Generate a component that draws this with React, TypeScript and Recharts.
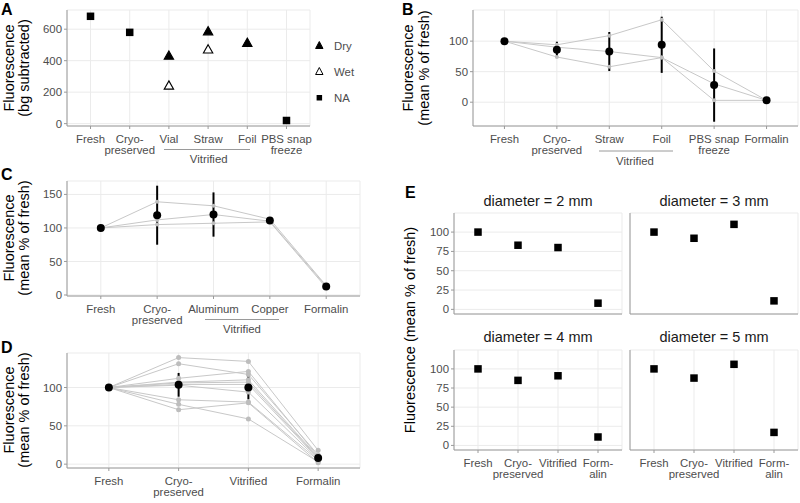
import React from 'react';
import { ComposedChart, Line, XAxis, YAxis, CartesianGrid, ErrorBar } from 'recharts';

const FONT = '"Liberation Sans", Arial, Helvetica, sans-serif';
const TICK = '#4d4d4d';
const AXIS = '#9a9a9a';
const GRID = '#ebebeb';
const SAMPLE_LINE = '#c8c8c8';
const SAMPLE_DOT = '#bdbdbd';

// Panel A: fluorescence (bg subtracted)
const catsA = ['Fresh', 'Cryo-\npreserved', 'Vial', 'Straw', 'Foil', 'PBS snap\nfreeze'];
const dryA = [null, null, 430, 585, 512, null];
const wetA = [null, null, 240, 470, null, null];
const naA = [682, 580, null, null, null, 20];
const ticksA = [0, 200, 400, 600];

// Panel B
const catsB = ['Fresh', 'Cryo-\npreserved', 'Straw', 'Foil', 'PBS snap\nfreeze', 'Formalin'];
const samplesB = [
  [100, 94, 109, 135, 51, 3],
  [100, 90, 83, 73, 30, 3],
  [100, 74, 58, 73, 3, 3],
];
const meanB = [100, 86, 83, 94, 28, 3];
const errB = [0, 13, 32, 46, 60, 1];
const ticksB = [0, 50, 100];

// Panel C
const catsC = ['Fresh', 'Cryo-\npreserved', 'Aluminum', 'Copper', 'Formalin'];
const samplesC = [
  [100, 139, 133, 113, 14],
  [100, 112, 120, 110, 13],
  [100, 105, 107, 109, 11],
];
const meanC = [100, 119, 120, 111, 12.5];
const errC = [0, 44, 33, 2, 1.5];
const ticksC = [0, 50, 100, 150];

// Panel D
const catsD = ['Fresh', 'Cryo-\npreserved', 'Vitrified', 'Formalin'];
const samplesD = [
  [100, 139, 134, 18],
  [100, 131, 117, 12],
  [100, 112, 121, 10],
  [100, 107, 110, 9],
  [100, 106, 107, 8],
  [100, 104, 104, 7],
  [100, 103, 94, 6],
  [100, 84, 81, 5],
  [100, 78, 59, 3],
  [100, 71, 80, 2],
];
const meanD = [100, 103.5, 100, 8];
const errD = [0, 15.5, 15.5, 4];
const ticksD = [0, 50, 100];

// Panel E: by diameter
const catsE = ['Fresh', 'Cryo-\npreserved', 'Vitrified', 'Form-\nalin'];
const d2mm = [100, 83, 80, 8];
const d3mm = [100, 92, 110, 11];
const d4mm = [100, 85, 91, 11];
const d5mm = [100, 88, 106, 17];
const ticksE = [0, 25, 50, 75, 100];

const tickStyle = { fill: TICK, fontSize: 11.4, fontFamily: FONT };

function XTick(props: any) {
  const { x, y, payload, cats } = props;
  const label = cats[Math.round(payload.value) - 1] || '';
  const lines = label.split('\n');
  return (
    <text x={x} y={y} textAnchor="middle" fill={TICK} fontSize={11.4} fontFamily={FONT}>
      {lines.map((l: string, i: number) => (
        <tspan key={i} x={x} dy={i === 0 ? 11.7 : 11.5}>
          {l}
        </tspan>
      ))}
    </text>
  );
}

const square = (size: number) => (props: any) => {
  const { cx, cy, index } = props;
  if (cx == null || cy == null || isNaN(cy)) return <g key={index} />;
  return <rect key={index} x={cx - size / 2} y={cy - size / 2} width={size} height={size} fill="#000" />;
};

const triangle = (filled: boolean) => (props: any) => {
  const { cx, cy, index } = props;
  if (cx == null || cy == null || isNaN(cy)) return <g key={index} />;
  const d = `M${cx},${cy - 5} L${cx + 4.7},${cy + 3.3} L${cx - 4.7},${cy + 3.3} Z`;
  return <path key={index} d={d} fill={filled ? '#000' : '#fff'} stroke="#000" strokeWidth={1.1} />;
};

function xAxisFor(cats: string[], height: number, showLabels = true) {
  return (
    <XAxis
      dataKey="x"
      type="number"
      domain={[0.4, cats.length + 0.6]}
      ticks={cats.map((_, i) => i + 1)}
      interval={0}
      height={height}
      allowDataOverflow
      stroke={AXIS}
      tickSize={3}
      tickMargin={2}
      tickLine={showLabels}
      tick={showLabels ? <XTick cats={cats} /> : false}
    />
  );
}

function yAxisFor(domain: number[], ticks: number[], width: number, showLabels = true) {
  return (
    <YAxis
      type="number"
      domain={domain}
      ticks={ticks}
      interval={0}
      width={width}
      allowDataOverflow
      stroke={AXIS}
      tickSize={3}
      tickMargin={2}
      tickLine={showLabels}
      tick={showLabels ? tickStyle : false}
    />
  );
}

function PanelA() {
  const data = catsA.map((c, i) => ({ x: i + 1, dry: dryA[i], wet: wetA[i], na: naA[i] }));
  return (
    <div style={{ position: 'absolute', left: 0, top: 0 }}>
      <ComposedChart width={312} height={170} data={data} margin={{ top: 10, right: 2, left: 0, bottom: 0 }}>
        <CartesianGrid stroke={GRID} />
        {xAxisFor(catsA, 44)}
        {yAxisFor([-15, 722], ticksA, 67)}
        <Line dataKey="na" stroke="none" dot={square(7.5)} isAnimationActive={false} />
        <Line dataKey="dry" stroke="none" dot={triangle(true)} isAnimationActive={false} />
        <Line dataKey="wet" stroke="none" dot={triangle(false)} isAnimationActive={false} />
      </ComposedChart>
    </div>
  );
}

function TrendPanel(props: any) {
  const { left, top, width, height, marginTop, xHeight, cats, samples, mean, err, domain, ticks, yWidth, sampleR } = props;
  const data = cats.map((c: string, i: number) => {
    const row: any = { x: i + 1, mean: mean[i], err: err[i] };
    samples.forEach((s: number[], k: number) => {
      row['s' + k] = s[i];
    });
    return row;
  });
  return (
    <div style={{ position: 'absolute', left, top }}>
      <ComposedChart width={width} height={height} data={data} margin={{ top: marginTop, right: 2, left: 0, bottom: 0 }}>
        <CartesianGrid stroke={GRID} />
        {xAxisFor(cats, xHeight)}
        {yAxisFor(domain, ticks, yWidth)}
        {samples.map((_: any, k: number) => (
          <Line
            key={k}
            dataKey={'s' + k}
            stroke={SAMPLE_LINE}
            strokeWidth={1}
            dot={{ r: sampleR, fill: SAMPLE_DOT, stroke: 'none' }}
            activeDot={false}
            isAnimationActive={false}
          />
        ))}
        <Line dataKey="mean" stroke="none" dot={{ r: 4, fill: '#000', stroke: 'none' }} activeDot={false} isAnimationActive={false}>
          <ErrorBar dataKey="err" width={0} strokeWidth={2} stroke="#000" direction="y" />
        </Line>
      </ComposedChart>
    </div>
  );
}

function Facet(props: any) {
  const { left, top, width, height, values, bottom, first } = props;
  const data = catsE.map((c, i) => ({ x: i + 1, v: values[i] }));
  return (
    <div style={{ position: 'absolute', left, top }}>
      <ComposedChart width={width} height={height} data={data} margin={{ top: 8, right: 2, left: 0, bottom: 0 }}>
        <CartesianGrid stroke={GRID} />
        {xAxisFor(catsE, bottom ? 37 : 6, bottom)}
        {yAxisFor([-6, 124.7], ticksE, first ? 54 : 2, first)}
        <Line dataKey="v" stroke="none" dot={square(7.5)} activeDot={false} isAnimationActive={false} />
      </ComposedChart>
    </div>
  );
}

function Overlay() {
  const letter = { fontFamily: FONT, fontWeight: 700, fontSize: 16, fill: '#000' } as any;
  const title = { fontFamily: FONT, fontSize: 14.5, fill: '#000' } as any;
  const small = { fontFamily: FONT, fontSize: 11.4, fill: TICK } as any;
  const rot = (x: number, y: number) => `translate(${x},${y}) rotate(-90)`;
  return (
    <svg width={800} height={503} style={{ position: 'absolute', left: 0, top: 0, pointerEvents: 'none' }}>
      <text x={1} y={15} {...letter}>A</text>
      <text x={402} y={15} {...letter}>B</text>
      <text x={1} y={180} {...letter}>C</text>
      <text x={1} y={353} {...letter}>D</text>
      <text x={405} y={198} {...letter}>E</text>

      <text transform={rot(14, 68)} textAnchor="middle" {...title}>Fluorescence</text>
      <text transform={rot(29, 68)} textAnchor="middle" {...title}>(bg subtracted)</text>
      <text transform={rot(413, 68)} textAnchor="middle" {...title}>Fluorescence</text>
      <text transform={rot(429, 68)} textAnchor="middle" {...title}>(mean % of fresh)</text>
      <text transform={rot(14, 238)} textAnchor="middle" {...title}>Fluorescence</text>
      <text transform={rot(29, 238)} textAnchor="middle" {...title}>(mean % of fresh)</text>
      <text transform={rot(14, 410)} textAnchor="middle" {...title}>Fluorescence</text>
      <text transform={rot(29, 410)} textAnchor="middle" {...title}>(mean % of fresh)</text>
      <text transform={rot(415, 330)} textAnchor="middle" {...title}>Fluorescence (mean % of fresh)</text>

      <line x1={164} x2={250} y1={149.5} y2={149.5} stroke={AXIS} strokeWidth={1} />
      <text x={208.7} y={163} textAnchor="middle" {...small}>Vitrified</text>
      <line x1={599} x2={673} y1={151} y2={151} stroke={AXIS} strokeWidth={1} />
      <text x={635} y={165} textAnchor="middle" {...small}>Vitrified</text>
      <line x1={205} x2={279} y1={319.5} y2={319.5} stroke={AXIS} strokeWidth={1} />
      <text x={242} y={333} textAnchor="middle" {...small}>Vitrified</text>

      <path d="M319.3,41.5 L323,48.5 L315.6,48.5 Z" fill="#000" stroke="#000" strokeWidth={1} />
      <text x={334} y={50} {...small}>Dry</text>
      <path d="M319.3,67.5 L323,74.5 L315.6,74.5 Z" fill="#fff" stroke="#000" strokeWidth={1} />
      <text x={334} y={76} {...small}>Wet</text>
      <rect x={316.6} y={95} width={5.5} height={5.5} fill="#000" />
      <text x={334} y={102} {...small}>NA</text>

      <text x={538} y={206} textAnchor="middle" {...title} fill="#1a1a1a">diameter = 2 mm</text>
      <text x={714} y={206} textAnchor="middle" {...title} fill="#1a1a1a">diameter = 3 mm</text>
      <text x={538} y={342} textAnchor="middle" {...title} fill="#1a1a1a">diameter = 4 mm</text>
      <text x={714} y={342} textAnchor="middle" {...title} fill="#1a1a1a">diameter = 5 mm</text>
    </svg>
  );
}

export default function App() {
  return (
    <div style={{ position: 'absolute', left: 0, top: 0, width: 800, height: 503, background: '#fff', overflow: 'hidden' }}>
      <PanelA />
      <TrendPanel
        left={400} top={0} width={400} height={170} marginTop={10} xHeight={44} yWidth={73}
        cats={catsB} samples={samplesB} mean={meanB} err={errB} domain={[-39, 151]} ticks={ticksB} sampleR={2}
      />
      <TrendPanel
        left={0} top={170} width={362} height={170} marginTop={11} xHeight={44} yWidth={67}
        cats={catsC} samples={samplesC} mean={meanC} err={errC} domain={[-1.5, 170]} ticks={ticksC} sampleR={2}
      />
      <TrendPanel
        left={0} top={330} width={362} height={173} marginTop={23} xHeight={35} yWidth={67}
        cats={catsD} samples={samplesD} mean={meanD} err={errD} domain={[-5, 145]} ticks={ticksD} sampleR={2.5}
      />
      <Facet left={400} top={205} width={224} height={115} values={d2mm} bottom={false} first={true} />
      <Facet left={628} top={205} width={172} height={115} values={d3mm} bottom={false} first={false} />
      <Facet left={400} top={342} width={224} height={145} values={d4mm} bottom={true} first={true} />
      <Facet left={628} top={342} width={172} height={145} values={d5mm} bottom={true} first={false} />
      <Overlay />
    </div>
  );
}
